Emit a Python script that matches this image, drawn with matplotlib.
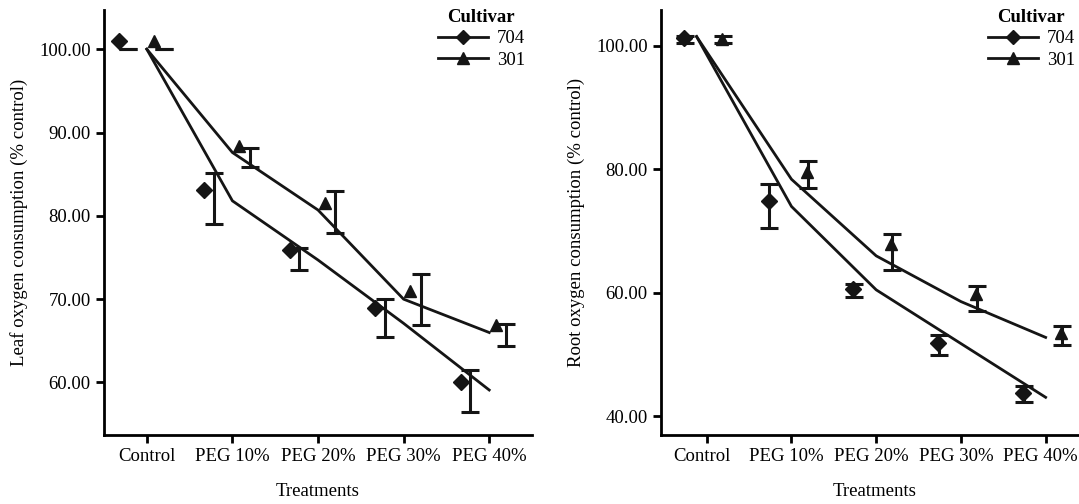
import matplotlib
matplotlib.use("Agg")
import matplotlib.pyplot as plt
import matplotlib.transforms as mtransforms
from matplotlib.lines import Line2D
from matplotlib.ticker import FormatStrFormatter
import numpy as np

plt.rcParams['font.family'] = ['Liberation Serif', 'DejaVu Serif']

treatments = ['Control', 'PEG 10%', 'PEG 20%', 'PEG 30%', 'PEG 40%']
cultivars = ['704', '301']

# leaf panel
leaf_704_mean = [101.0, 83.1, 75.9, 69.0, 60.0]
leaf_704_low = [100.0, 79.0, 73.5, 65.4, 56.4]
leaf_704_high = [100.0, 85.2, 76.2, 70.0, 61.5]
leaf_301_mean = [101.0, 88.4, 81.6, 71.0, 66.9]
leaf_301_low = [100.0, 85.9, 77.9, 66.9, 64.4]
leaf_301_high = [100.0, 88.1, 83.0, 73.0, 67.0]
leaf_704_fit = [100.0, 81.8, 74.7, 67.1, 59.1]
leaf_301_fit = [100.0, 87.6, 80.7, 70.0, 66.0]

# root panel
root_704_mean = [101.2, 74.9, 60.7, 51.9, 43.8]
root_704_low = [100.4, 70.5, 59.4, 50.0, 42.4]
root_704_high = [101.6, 77.6, 61.5, 53.2, 44.9]
root_301_mean = [101.1, 79.5, 67.9, 59.9, 53.5]
root_301_low = [100.5, 77.0, 63.7, 57.1, 51.5]
root_301_high = [101.6, 81.3, 69.6, 61.1, 54.7]
root_704_fit = [101.5, 74.0, 60.5, 51.8, 43.1]
root_301_fit = [101.5, 78.4, 66.0, 58.6, 52.8]
root_fit_x = [-0.12, 1, 2, 3, 4]

W, H = 1079, 504
fig = plt.figure(figsize=(W / 100, H / 100), dpi=100)

def px_axes(l, r, t, b):
    return fig.add_axes([l / W, 1 - b / H, (r - l) / W, (b - t) / H])

ax1 = px_axes(104, 532, 10, 435)
ax2 = px_axes(661, 1088, 10, 435)

FS = 13.5
INK = '#151515'

def draw(ax, means, lows, highs, fits, fit_x, mk_off, eb_off):
    x = np.arange(len(treatments))
    for i, name in enumerate(cultivars):
        marker = 'D' if name == '704' else '^'
        ms = 8 if name == '704' else 8.5
        ax.plot(fit_x, fits[i], color=INK, lw=2, zorder=2)
        ax.plot(x + mk_off[i], means[i], ls='none', marker=marker, ms=ms,
                color=INK, zorder=3)
        lo = np.array(lows[i])
        hi = np.array(highs[i])
        ax.errorbar(x + eb_off[i], (lo + hi) / 2, yerr=(hi - lo) / 2, fmt='none',
                    ecolor=INK, elinewidth=2.2, capsize=6.5, capthick=2.2, zorder=3)
    ax.set_xticks(x)
    ax.set_xticklabels(treatments, fontsize=FS)
    ax.yaxis.set_major_formatter(FormatStrFormatter('%.2f'))
    for s in ['top', 'right']:
        ax.spines[s].set_visible(False)
    for s in ['left', 'bottom']:
        ax.spines[s].set_linewidth(2)
    ax.tick_params(axis='both', width=2, length=6, labelsize=FS, colors='black')
    ax.set_xlabel('Treatments', fontsize=FS, labelpad=13)

draw(ax1, [leaf_704_mean, leaf_301_mean], [leaf_704_low, leaf_301_low],
     [leaf_704_high, leaf_301_high], [leaf_704_fit, leaf_301_fit],
     np.arange(5), [-0.33, 0.08], [-0.22, 0.20])
ax1.set_xlim(-0.5, 4.5)
ax1.set_ylim(53.7, 104.7)
ax1.set_yticks([60, 70, 80, 90, 100])
ax1.set_ylabel('Leaf oxygen consumption (% control)', fontsize=FS, labelpad=8)

draw(ax2, [root_704_mean, root_301_mean], [root_704_low, root_301_low],
     [root_704_high, root_301_high], [root_704_fit, root_301_fit],
     root_fit_x, [-0.27, 0.18], [-0.26, 0.19])
ax2.set_xlim(-0.54, 4.5)
ax2.set_ylim(37.0, 105.8)
ax2.set_yticks([40, 60, 80, 100])
ax2.set_ylabel('Root oxygen consumption (% control)', fontsize=FS, labelpad=8)

# right panel tick labels sit a touch left of their ticks
shift = mtransforms.ScaledTranslation(-5 / 100, 0, fig.dpi_scale_trans)
for lab in ax2.get_xticklabels():
    lab.set_transform(lab.get_transform() + shift)

handles = [Line2D([], [], color=INK, lw=2, marker='D', ms=7),
           Line2D([], [], color=INK, lw=2, marker='^', ms=8.5)]
for ax, xr in [(ax1, 538), (ax2, 1088)]:
    leg = ax.legend(handles, cultivars, title='Cultivar', frameon=False,
                    loc='upper right', bbox_to_anchor=(xr / W, 1 + 4 / H),
                    bbox_transform=fig.transFigure, fontsize=FS,
                    handlelength=2.7, handletextpad=0.45, labelspacing=0.22,
                    borderpad=0.2)
    leg.get_title().set_fontsize(FS)
    leg.get_title().set_fontweight('bold')
    leg._legend_box.align = 'center'

fig.savefig('out.png', dpi=100)
